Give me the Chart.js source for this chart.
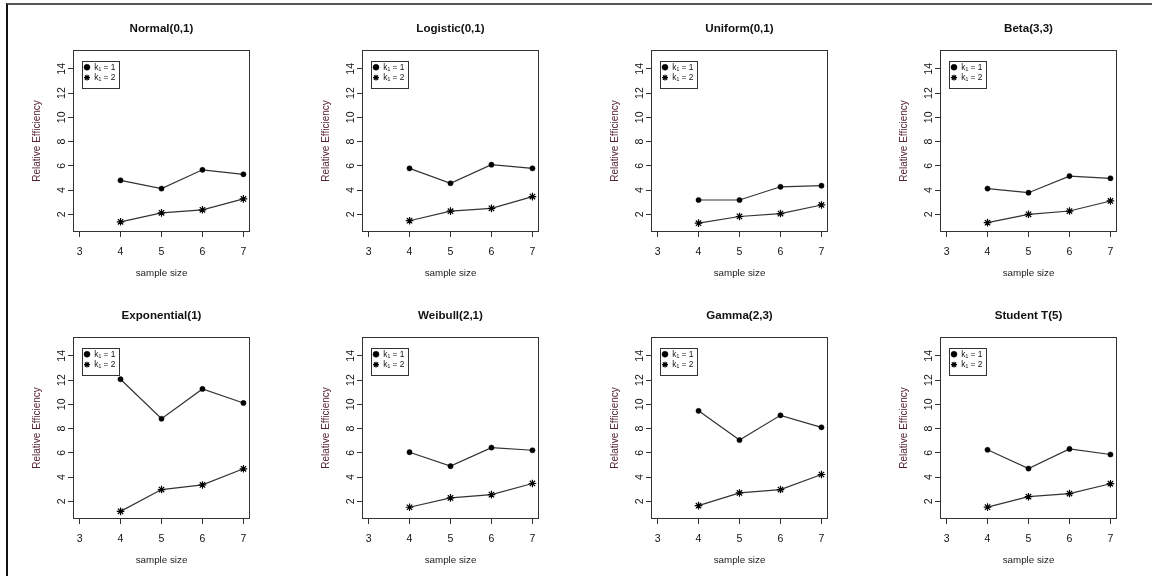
<!DOCTYPE html>
<html>
<head>
<meta charset="utf-8">
<script src="https://cdn.jsdelivr.net/npm/chart.js@4.4.1/dist/chart.umd.min.js"></script>
<style>
  html, body { margin: 0; padding: 0; background: #fff; }
  #wrap { position: relative; width: 1152px; height: 576px; overflow: hidden; background: #fff; }
  .frame { position: absolute; left: 6px; top: 3px; right: 0; bottom: 0;
           border-top: 2px solid #555; border-left: 2px solid #111; pointer-events: none; }
  canvas.panel { position: absolute; }
</style>
</head>
<body>
<div id="wrap"><div class="frame"></div></div>
<script>
// ---------------- data ----------------
const sampleSizes = [4, 5, 6, 7];
const xTickValues = [3, 4, 5, 6, 7];
const yTickValues = [2, 4, 6, 8, 10, 12, 14];
const seriesLabels = ['k\u2081 = 1', 'k\u2081 = 2'];
const panelTitles = ['Normal(0,1)', 'Logistic(0,1)', 'Uniform(0,1)', 'Beta(3,3)',
                     'Exponential(1)', 'Weibull(2,1)', 'Gamma(2,3)', 'Student T(5)'];

const normalK1 = [4.80, 4.12, 5.67, 5.30];
const normalK2 = [1.38, 2.12, 2.37, 3.27];
const logisticK1 = [5.79, 4.56, 6.09, 5.79];
const logisticK2 = [1.47, 2.26, 2.49, 3.46];
const uniformK1 = [3.18, 3.18, 4.27, 4.36];
const uniformK2 = [1.27, 1.82, 2.06, 2.77];
const betaK1 = [4.12, 3.78, 5.15, 4.97];
const betaK2 = [1.31, 2.00, 2.27, 3.10];
const exponentialK1 = [12.07, 8.81, 11.27, 10.11];
const exponentialK2 = [1.17, 2.97, 3.35, 4.68];
const weibullK1 = [6.05, 4.90, 6.43, 6.21];
const weibullK2 = [1.51, 2.28, 2.55, 3.47];
const gammaK1 = [9.46, 7.05, 9.09, 8.10];
const gammaK2 = [1.64, 2.69, 2.97, 4.21];
const studentK1 = [6.25, 4.70, 6.32, 5.86];
const studentK2 = [1.52, 2.38, 2.64, 3.45];

const panelSeries = [
  [normalK1, normalK2], [logisticK1, logisticK2], [uniformK1, uniformK2], [betaK1, betaK2],
  [exponentialK1, exponentialK2], [weibullK1, weibullK2], [gammaK1, gammaK2], [studentK1, studentK2]
];

// ---------------- layout / style ----------------
const PANEL_W = 289, PANEL_H = 287;
const FONT = '"Liberation Sans", Arial, Helvetica, sans-serif';
Chart.defaults.font.family = FONT;
Chart.defaults.color = '#111';

const boxPlugin = {
  id: 'rbox',
  afterLayout(chart) {
    const L = chart.legend, ca = chart.chartArea;
    if (L) {
      L.left = ca.left + 9; L.top = ca.top + 11;
      L.right = L.left + L.width; L.bottom = L.top + L.height;
    }
  },
  afterDraw(chart) {
    const ctx = chart.ctx, ca = chart.chartArea;
    ctx.save();
    ctx.strokeStyle = '#333';
    ctx.lineWidth = 1;
    ctx.strokeRect(Math.round(ca.left) + 0.5, Math.round(ca.top) + 0.5,
                   Math.round(ca.right - ca.left) - 1, Math.round(ca.bottom - ca.top) - 1);
    const L = chart.legend;
    if (L && L.legendHitBoxes && L.legendHitBoxes.length) {
      const hb = L.legendHitBoxes;
      let r = 0, b = 0;
      hb.forEach(h => { r = Math.max(r, h.left + h.width); b = Math.max(b, h.top + h.height); });
      const x0 = Math.round(L.left) + 0.5, y0 = Math.round(L.top) + 0.5;
      ctx.strokeRect(x0, y0, Math.round(r + 4 - L.left), Math.round(b + 6 - L.top));
    }
    ctx.restore();
  }
};

const wrap = document.getElementById('wrap');

panelTitles.forEach((title, i) => {
  const col = i % 4, row = Math.floor(i / 4);
  const cv = document.createElement('canvas');
  cv.className = 'panel';
  cv.width = PANEL_W; cv.height = PANEL_H;
  cv.style.left = (col * PANEL_W) + 'px';
  cv.style.top = (row * PANEL_H) + 'px';
  cv.style.width = PANEL_W + 'px'; cv.style.height = PANEL_H + 'px';
  wrap.appendChild(cv);

  const [k1, k2] = panelSeries[i];
  const toXY = arr => sampleSizes.map((s, j) => ({ x: s, y: arr[j] }));

  new Chart(cv.getContext('2d'), {
    type: 'line',
    data: {
      datasets: [
        { label: seriesLabels[0], data: toXY(k1), borderColor: '#333', borderWidth: 1.2,
          pointStyle: 'circle', pointRadius: 2.6, pointBackgroundColor: '#000',
          pointBorderColor: '#000', pointBorderWidth: 0.5, tension: 0, fill: false },
        { label: seriesLabels[1], data: toXY(k2), borderColor: '#333', borderWidth: 1.2,
          pointStyle: 'star', pointRadius: 3.8, pointBackgroundColor: '#000',
          pointBorderColor: '#000', pointBorderWidth: 1.2, tension: 0, fill: false }
      ]
    },
    options: {
      responsive: false, animation: false, devicePixelRatio: 1,
      layout: { padding: { left: 0, right: PANEL_W - 250, top: 0, bottom: 0 } },
      plugins: {
        tooltip: { enabled: false },
        title: { display: true, text: title, fullSize: false, color: '#111',
                 font: { size: 11.6, weight: 'bold', family: FONT, lineHeight: 1.2 },
                 padding: { top: 22, bottom: 14.1 } },
        legend: {
          display: true, position: 'chartArea', align: 'start',
          labels: { usePointStyle: true, boxWidth: 6, boxHeight: 4.2, padding: 2,
                    color: '#111', font: { size: 8.4, family: FONT } }
        }
      },
      scales: {
        x: {
          type: 'linear', min: 2.84, max: 7.16,
          afterBuildTicks: s => { s.ticks = xTickValues.map(v => ({ value: v })); },
          afterFit: s => { s.height = PANEL_H - 232; },
          border: { display: false },
          grid: { display: true, drawOnChartArea: false, drawTicks: true, tickLength: 5,
                  color: '#333', lineWidth: 1 },
          ticks: { padding: 8.5, color: '#111', font: { size: 10.5, family: FONT },
                   maxRotation: 0, minRotation: 0 },
          title: { display: true, text: 'sample size', color: '#1a1a1a',
                   font: { size: 9.8, family: FONT, lineHeight: 1.2 },
                   padding: { top: 0, bottom: 7.8 } }
        },
        y: {
          type: 'linear', min: 0.54, max: 15.55,
          afterBuildTicks: s => { s.ticks = yTickValues.map(v => ({ value: v })); },
          afterFit: s => { s.width = 73; },
          border: { display: false },
          grid: { display: true, drawOnChartArea: false, drawTicks: true, tickLength: 5,
                  color: '#333', lineWidth: 1 },
          ticks: { padding: 0.5, color: '#111', crossAlign: 'center',
                   minRotation: 90, maxRotation: 90,
                   font: { size: 10.5, family: FONT } },
          title: { display: true, text: 'Relative Efficiency', color: '#552233',
                   font: { size: 10, family: FONT, lineHeight: 1.2 },
                   padding: { top: 31.3, bottom: 0 } }
        }
      }
    },
    plugins: [boxPlugin]
  });
});
</script>
</body>
</html>
